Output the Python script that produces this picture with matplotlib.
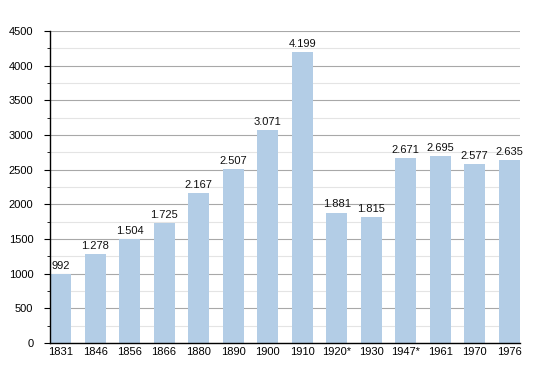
import matplotlib
matplotlib.use("Agg")
import matplotlib.pyplot as plt
from matplotlib.ticker import MultipleLocator

years = ["1831", "1846", "1856", "1866", "1880", "1890", "1900", "1910",
         "1920*", "1930", "1947*", "1961", "1970", "1976"]
population = [992, 1278, 1504, 1725, 2167, 2507, 3071, 4199,
              1881, 1815, 2671, 2695, 2577, 2635]
labels = ["992", "1.278", "1.504", "1.725", "2.167", "2.507", "3.071", "4.199",
          "1.881", "1.815", "2.671", "2.695", "2.577", "2.635"]

plt.rcParams["font.family"] = ["Liberation Sans", "DejaVu Sans"]

fig = plt.figure(figsize=(5.5, 3.73), dpi=100)
ax = fig.add_axes([0.0909, 0.0804, 0.8541, 0.8365])

x = range(len(years))
ax.bar(x, population, width=0.61, color="#b3cde6", zorder=2)
for i, (v, s) in enumerate(zip(population, labels)):
    ax.text(i, v + 45, s, ha="center", va="bottom", fontsize=8, color="#111111")

ax.set_ylim(0, 4500)
ax.set_xlim(-0.305, len(years) - 1 + 0.305)
ax.yaxis.set_major_locator(MultipleLocator(500))
ax.yaxis.set_minor_locator(MultipleLocator(250))
ax.grid(axis="y", which="major", color="#a8a8a8", linewidth=0.8, zorder=0)
ax.grid(axis="y", which="minor", color="#e4e4e4", linewidth=0.8, zorder=0)
ax.set_axisbelow(True)

ax.set_xticks(list(x))
ax.set_xticklabels(years, fontsize=8)
ax.tick_params(axis="x", length=0, pad=3)
ax.tick_params(axis="y", which="major", length=4, labelsize=8, pad=8)
ax.tick_params(axis="y", which="minor", length=2)
for side in ["top", "right"]:
    ax.spines[side].set_visible(False)
ax.spines["left"].set_linewidth(1.0)
ax.spines["bottom"].set_linewidth(1.0)

fig.savefig("out.png", dpi=100)
